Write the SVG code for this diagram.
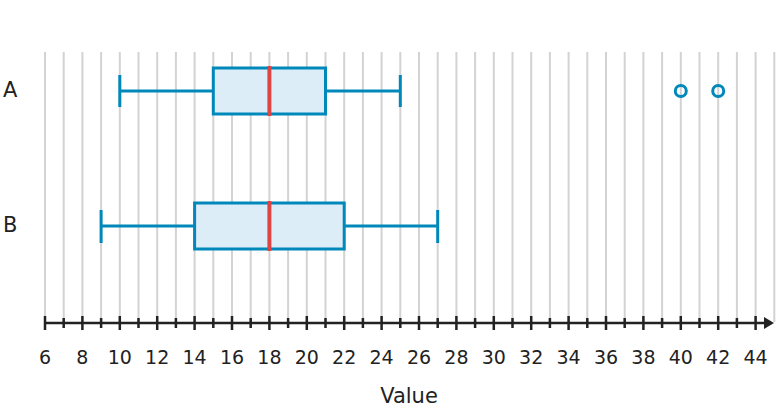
<svg xmlns="http://www.w3.org/2000/svg" width="777" height="412" viewBox="0 0 777 412">
<style>
.g{stroke:#d3d3d3;stroke-width:2}
.t{stroke:#222;stroke-width:2.5}
.l{font-family:"DejaVu Sans",sans-serif;font-size:19px;fill:#222;text-anchor:middle}
.c{font-family:"DejaVu Sans",sans-serif;font-size:21px;fill:#222}
.w{stroke:#0088bb;stroke-width:3;fill:none}
.b{stroke:#0088bb;stroke-width:3;fill:#dcedf8}
.m{stroke:#dd4444;stroke-width:4}
</style>
<rect width="777" height="412" fill="#fff"/>
<g id="grid">
<path class="g" d="M45 52V322M63.7 52V322M82.4 52V322M101.1 52V322M119.8 52V322M138.5 52V322M157.2 52V322M175.9 52V322M194.6 52V322M213.3 52V322M232 52V322M250.7 52V322M269.4 52V322M288.1 52V322M306.8 52V322M325.5 52V322M344.2 52V322M362.9 52V322M381.6 52V322M400.3 52V322M419 52V322M437.7 52V322M456.4 52V322M475.1 52V322M493.8 52V322M512.5 52V322M531.2 52V322M549.9 52V322M568.6 52V322M587.3 52V322M606 52V322M624.7 52V322M643.4 52V322M662.1 52V322M680.8 52V322M699.5 52V322M718.2 52V322M736.9 52V322M755.6 52V322M774.3 52V322"/>
</g>
<g id="axis">
<path class="t" d="M45 323H764"/>
<path d="M764 317L774 323L764 329Z" fill="#222"/>
<path class="t" d="M45 316V330M82.4 316V330M119.8 316V330M157.2 316V330M194.6 316V330M232 316V330M269.4 316V330M306.8 316V330M344.2 316V330M381.6 316V330M419 316V330M456.4 316V330M493.8 316V330M531.2 316V330M568.6 316V330M606 316V330M643.4 316V330M680.8 316V330M718.2 316V330M755.6 316V330"/>
<path class="t" stroke-width="2" d="M63.7 318V328M101.1 318V328M138.5 318V328M175.9 318V328M213.3 318V328M250.7 318V328M288.1 318V328M325.5 318V328M362.9 318V328M400.3 318V328M437.7 318V328M475.1 318V328M512.5 318V328M549.9 318V328M587.3 318V328M624.7 318V328M662.1 318V328M699.5 318V328M736.9 318V328"/>
<g class="l">
<text x="45" y="364">6</text><text x="82.4" y="364">8</text><text x="119.8" y="364">10</text><text x="157.2" y="364">12</text><text x="194.6" y="364">14</text><text x="232" y="364">16</text><text x="269.4" y="364">18</text><text x="306.8" y="364">20</text><text x="344.2" y="364">22</text><text x="381.6" y="364">24</text><text x="419" y="364">26</text><text x="456.4" y="364">28</text><text x="493.8" y="364">30</text><text x="531.2" y="364">32</text><text x="568.6" y="364">34</text><text x="606" y="364">36</text><text x="643.4" y="364">38</text><text x="680.8" y="364">40</text><text x="718.2" y="364">42</text><text x="755.6" y="364">44</text>
</g>
<text class="c" x="409" y="403" text-anchor="middle">Value</text>
</g>
<g id="A">
<text class="c" x="3" y="97">A</text>
<path class="w" d="M119.8 91H213.3M119.8 75V107M325.5 91H400.3M400.3 75V107"/>
<rect class="b" x="213.3" y="68" width="112.2" height="46"/>
<path class="m" d="M269.4 66V116"/>
<circle class="w" cx="680.8" cy="91" r="5.5"/>
<circle class="w" cx="718.2" cy="91" r="5.5"/>
</g>
<g id="B">
<text class="c" x="3" y="232">B</text>
<path class="w" d="M101.1 226H194.6M101.1 210V243M344.2 226H437.7M437.7 210V243"/>
<rect class="b" x="194.6" y="203" width="149.6" height="46"/>
<path class="m" d="M269.4 201V251"/>
</g>
</svg>
